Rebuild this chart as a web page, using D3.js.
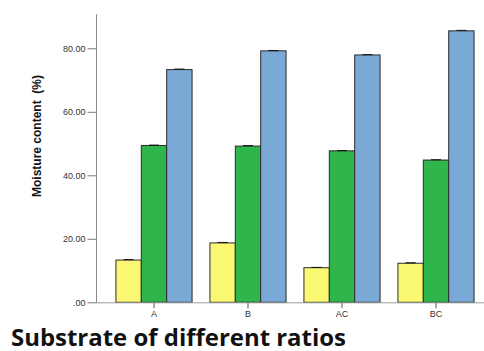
<!DOCTYPE html>
<html><head><meta charset="utf-8">
<script src="https://cdn.jsdelivr.net/npm/d3@7"></script>
<style>body{margin:0;background:#fff}svg{display:block}</style>
</head><body>
<svg id="c" width="484" height="351"></svg>
<script>
const categories = ["A","B","AC","BC"];
const seriesNames = ["s1","s2","s3"];
const series1 = [13.3, 18.7, 10.9, 12.3];
const series2 = [49.4, 49.2, 47.7, 44.8];
const series3 = [73.3, 79.2, 77.9, 85.5];
const errors1 = [0.15, 0.15, 0.1, 0.15];
const errors2 = [0.1, 0.15, 0.1, 0.1];
const errors3 = [0.15, 0.1, 0.1, 0.15];
const yTicks = [0, 20, 40, 60, 80];
const yTickLabels = [".00","20.00","40.00","60.00","80.00"];
const yMax = 90.7;
const colors = ["#fbf873","#2fb64a","#7aa9d5"];

const svg = d3.select("#c");
const x = d3.scaleBand().domain(categories).range([107, 483]).paddingInner(0.19).paddingOuter(0.095);
const x1 = d3.scaleBand().domain(seriesNames).range([0, x.bandwidth()]);
const y = d3.scaleLinear().domain([0, 80]).range([302.3, 48.3]);

const vals = [series1, series2, series3];
const errs = [errors1, errors2, errors3];

// axes
const ax = svg.append("g").attr("transform","translate(96.5,0)")
  .call(d3.axisLeft(y).tickValues(yTicks).tickFormat((d,i)=>yTickLabels[i]).tickSize(9).tickPadding(2));
ax.select(".domain").remove();
ax.selectAll("line").attr("stroke","#7a7a7a");
ax.selectAll("text").attr("fill","#333").style("font-family","Liberation Sans, Arial, sans-serif").style("font-size","9px");
svg.append("line").attr("x1",96.5).attr("x2",96.5).attr("y1",y(yMax)).attr("y2",y(0)).attr("stroke","#8a8a8a");

const bx = svg.append("g").attr("transform",`translate(0,${y(0)})`)
  .call(d3.axisBottom(x).tickSize(6).tickPadding(2));
bx.select(".domain").remove();
bx.selectAll("line").attr("stroke","#555");
bx.selectAll("text").attr("fill","#333").style("font-family","Liberation Sans, Arial, sans-serif").style("font-size","9px");

// bars
categories.forEach((c, ci) => {
  vals.forEach((arr, si) => {
    const v = arr[ci];
    svg.append("rect")
      .attr("x", x(c) + x1(seriesNames[si]))
      .attr("y", y(v))
      .attr("width", x1.bandwidth())
      .attr("height", y(0) - y(v))
      .attr("fill", colors[si])
      .attr("stroke", "#2a2a2a").attr("stroke-width", 1);
    const cx = x(c) + x1(seriesNames[si]) + x1.bandwidth()/2;
    const e = errs[si][ci];
    svg.append("line").attr("x1",cx-5).attr("x2",cx+5).attr("y1",y(v+e)).attr("y2",y(v+e)).attr("stroke","#111").attr("stroke-width",1);
  });
});

svg.append("line").attr("x1",96).attr("x2",484).attr("y1",y(0)+0.5).attr("y2",y(0)+0.5).attr("stroke","#9a9a9a");

// y label
svg.append("text").attr("transform","translate(41,136) rotate(-90)")
  .attr("text-anchor","middle").style("font-family","Liberation Sans, Arial, sans-serif")
  .style("font-size","12px").style("font-weight","bold").attr("fill","#111")
  .attr("textLength",122).attr("lengthAdjust","spacingAndGlyphs")
  .text("Moisture content\u00a0 (%)");

// title
svg.append("text").attr("x",11).attr("y",345.5)
  .style("font-family","Open Sans, sans-serif").style("font-size","23px").style("font-weight","bold")
  .attr("fill","#111").attr("textLength",335).attr("lengthAdjust","spacingAndGlyphs")
  .text("Substrate of different ratios");
</script>
</body></html>
